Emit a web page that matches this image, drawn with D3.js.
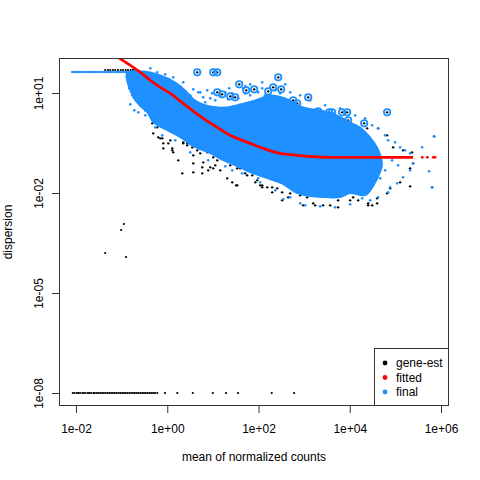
<!DOCTYPE html>
<html><head><meta charset="utf-8">
<script src="https://cdn.jsdelivr.net/npm/d3@7"></script>
<style>body{margin:0;background:#fff}</style>
</head><body><svg id="c" width="480" height="480"></svg>
<script>
// ---- tick labels ----
const xTicks = [1e-2, 1e0, 1e2, 1e4, 1e6];
const xTickLabels = ["1e-02", "1e+00", "1e+02", "1e+04", "1e+06"];
const yTicks = [1e1, 1e-2, 1e-5, 1e-8];
const yTickLabels = ["1e+01", "1e-02", "1e-05", "1e-08"];
const legendLabels = ["gene-est", "fitted", "final"];

// ---- data, all as [log10 mean, log10 dispersion] ----
// gene-est: genes at the minimum dispersion (1e-08)
const geneMinMean = [-2.07,-2.03,-1.98,-1.95,-1.91,-1.86,-1.83,-1.79,-1.74,-1.71,-1.67,-1.62,-1.59,-1.55,-1.51,-1.47,-1.43,-1.39,-1.35,-1.31,-1.27,-1.23,-1.19,-1.15,-1.11,-1.07,-1.03,-0.99,-0.95,-0.91,-0.87,-0.83,-0.79,-0.75,-0.71,-0.67,-0.63,-0.59,-0.55,-0.51,-0.47,-0.43,-0.39,-0.35,-0.31,-0.27,-0.22,-0.05,0.22,0.56,1.0,1.29,1.55,2.29,2.78];
const geneMinDisp = -8;
// gene-est: capped maximum
const geneMaxMean = [-1.36,-1.30,-1.25,-1.19,-1.14,-1.08,-1.02,-0.97,-0.91,-0.86,-0.80,-0.75,-0.70,-0.66];
const geneMaxDisp = 1.69;
// gene-est isolated low points
const geneIsolated = [[-0.95,-2.93],[-1.01,-3.11],[-1.36,-3.80],[-0.905,-3.92]];
// gene-est scattered (mostly below the final cloud)
const geneScatter = [
[-0.657,0.78],[-0.591,0.69],[-0.482,0.48],[-0.372,0.33],[-0.329,0.09],[-0.307,0.18],[-0.307,-0.21],[-0.219,-0.03],
[-0.197,-0.33],[-0.153,-0.36],[-0.088,-0.51],[-0.088,-0.66],[0.022,-0.51],[0.066,-0.42],[0.110,-0.66],[0.131,-0.78],
[0.241,-1.02],[0.329,-1.41],[0.350,-0.48],[0.438,-0.51],[0.504,-0.51],[0.548,-0.63],[0.570,-0.87],[0.570,-1.38],
[0.767,-1.23],[0.767,-1.41],[0.789,-1.08],[0.898,-1.32],[0.942,-0.72],[1.008,-1.26],[1.052,-1.17],[1.117,-0.81],
[1.314,-1.56],[1.424,-1.68],[1.511,-1.77],[1.533,-1.26],[1.752,-1.47],[1.971,-1.62],[2.037,-1.77],[2.081,-1.83],
[2.191,-1.83],[2.300,-1.98],[2.410,-1.86],[2.519,-1.98],[2.651,-2.13],[2.979,-2.37],[3.242,-2.37],[3.571,-2.37],
[3.746,-2.43],[4.075,-2.13],[4.403,-2.37],[4.491,-2.37],[4.600,-2.16],[4.819,-2.01],[4.885,-1.86],[5.104,-1.68],
[5.323,-1.26],[5.389,-1.11],[5.169,-0.72],[4.951,-0.63],[4.819,-0.27],[4.622,-0.06],[4.381,-0.06],[4.162,-0.03],
[5.367,-0.78],[5.323,-1.80],[5.849,-0.30],[5.805,-1.83],
[-0.788,1.38],[-0.701,1.23],[-0.635,1.08],[-0.745,1.02],[-0.591,0.93],[-0.526,1.44],
[0.110,-0.72],[0.570,-1.11],[0.942,-1.23],[1.161,-1.32],[1.533,-1.77],[-0.110,-0.36],[0.350,-0.51],[0.438,-0.57],
[0.657,-0.72],[0.723,-0.81],[0.876,-0.78],[1.008,-0.93],[1.095,-1.02],[1.380,-1.17],[1.599,-1.26],[1.709,-1.41],
[1.928,-1.68],[2.081,-1.77],[2.300,-1.83],[2.519,-2.22],[2.694,-2.01],[3.198,-2.31],[3.417,-2.37],[3.746,-2.22],
[4.009,-2.22],[4.184,-2.22],[4.403,-2.31],[4.600,-2.31],[1.862,-1.47],[2.760,-1.83],[2.913,-2.07],[3.067,-2.13]];

// final: outline of the dense cloud of final estimates
const finalCloud = [
[-0.876,1.62],[-0.526,1.65],[-0.153,1.53],[0.175,1.32],[0.394,1.08],[0.613,0.78],[0.942,0.60],[1.271,0.57],
[1.599,0.66],[1.928,0.78],[2.256,0.93],[2.585,0.84],[2.979,0.57],[3.352,0.48],[3.724,0.33],[4.009,0.12],[4.228,-0.03],
[4.447,-0.33],[4.600,-0.63],[4.688,-0.93],[4.710,-1.17],
[4.666,-1.38],[4.513,-1.80],[4.338,-2.07],[4.009,-2.01],[3.790,-2.13],[3.461,-2.13],[3.133,-2.10],[2.804,-1.98],
[2.541,-1.74],[2.191,-1.56],[1.818,-1.38],[1.533,-1.20],[1.227,-1.02],[0.942,-0.81],[0.570,-0.60],[0.285,-0.33],
[0.000,-0.12],[-0.307,0.12],[-0.438,0.42],[-0.591,0.60],[-0.745,0.87],[-0.854,1.23],[-0.898,1.50]];
// final: capped plateau
const finalMaxMean = [-2.08,-2.03,-1.98,-1.93,-1.88,-1.83,-1.78,-1.73,-1.68,-1.63,-1.58,-1.53,-1.48,-1.43,-1.38,-1.33,-1.28,-1.23,-1.18,-1.13,-1.08,-1.03,-0.98,-0.93,-0.88,-0.83,-0.78,-0.73];
const finalMaxDisp = 1.63;
// final: scattered points around the cloud
const finalScatter = [
[-0.372,1.74],[-0.219,1.62],[-0.044,1.56],[0.131,1.47],[0.350,1.32],[0.285,1.20],[0.570,1.11],[0.679,1.02],
[0.876,1.08],[0.986,0.99],[1.271,1.02],[1.358,1.14],[1.709,1.20],[1.818,1.26],[2.081,1.32],[2.585,1.26],
[2.694,1.02],[2.913,0.93],[3.133,0.78],[3.461,0.63],[3.790,0.54],[4.119,0.33],[4.338,0.24],[4.491,0.03],
[4.622,-0.06],[4.775,-0.27],[4.841,-0.42],[4.994,-0.48],[5.104,-0.63],[5.213,-0.72],[5.323,-0.81],[5.389,-1.11],
[5.323,-1.32],[5.169,-1.53],[5.038,-1.71],[4.885,-1.83],[4.666,-1.56],[4.775,-1.32],[4.929,-1.02],[5.060,-1.17],
[4.841,-1.98],[4.622,-2.13],[4.447,-2.22],[5.586,-0.63],[5.739,-1.35],[5.849,-0.30],[5.805,-1.83],
[-0.482,0.33],[-0.263,-0.03],[-0.110,-0.27],[0.175,-0.42],[0.504,-0.78],[0.898,-1.02],[1.271,-1.20],[1.643,-1.41],
[2.037,-1.68],[2.366,-1.92],[2.694,-2.13],[3.023,-2.37],[3.352,-2.40],[3.680,-2.43],[4.009,-2.34],[4.272,-2.16],
[2.541,-2.19],[2.913,-2.31],[1.993,-1.56],[1.424,-1.32],[-0.810,0.66],[-0.723,0.48],[-0.767,0.93],[-0.832,1.14],[-0.635,0.42],
[0.504,0.93],[0.548,0.78],[0.723,1.02],[0.789,0.87],[0.942,0.84],[1.052,0.78],[1.161,0.90],[1.336,0.81],
[1.424,0.99],[1.555,0.84],[1.709,0.99],[1.818,0.93],[1.993,1.02],[2.081,1.14],[2.147,0.93],[2.366,1.08],
[2.475,0.99],[0.832,0.72],[0.394,0.93],[1.665,1.14]];
// final: dispersion outliers (circled)
const outliers = [
[0.657,1.62],[1.008,1.62],[1.095,1.62],[1.577,1.26],[1.095,1.02],[1.205,0.96],[1.380,0.90],[1.490,0.87],
[2.432,1.47],[1.906,1.11],[1.731,1.08],[2.322,1.17],[2.497,1.11],[2.213,1.05],[3.089,0.87],[2.169,0.72],
[2.760,0.78],[2.848,0.69],[3.308,0.45],[3.549,0.42],[3.614,0.42],[3.833,0.42],[3.943,0.42],[3.965,0.18],
[4.316,0.09],[4.819,0.42]];

// fitted trend
const fittedCurve = [
[-1.139,2.13],[-1.008,2.01],[-0.591,1.62],[-0.372,1.38],[-0.153,1.17],[0.066,0.99],[0.350,0.69],[0.723,0.30],
[1.095,-0.03],[1.380,-0.27],[1.818,-0.51],[2.103,-0.66],[2.475,-0.81],[2.848,-0.87],[3.571,-0.93],[4.294,-0.93],
[5.169,-0.93],[5.39,-0.93]];
const fittedSparse = [[5.59,-0.93],[5.70,-0.93],[5.83,-0.93],[5.87,-0.93]];

// ---- drawing ----
const BLUE = "#1E90FF", RED = "#FF0000";
const L = 59, R = 449, T = 58, B = 406;
const svg = d3.select("#c").style("font-family", "'Liberation Sans', Arial, Helvetica, sans-serif");
const P = v => Math.pow(10, v);
const x = d3.scaleLog().domain([P(-2.3726), P(6.1753)]).range([L, R]);
const y = d3.scaleLog().domain([P(-8.39), P(2.05)]).range([B, T]);
const fx = d => x(P(d[0])), fy = d => y(P(d[1]));

svg.append("defs").append("clipPath").attr("id", "clip")
  .append("rect").attr("x", L).attr("y", T).attr("width", R - L).attr("height", B - T);
const g = svg.append("g").attr("clip-path", "url(#clip)");

function dots(data, color, r) {
  g.append("g").selectAll("circle").data(data).join("circle")
    .attr("cx", fx).attr("cy", fy).attr("r", r).attr("fill", color);
}
// gene-est (black)
dots(geneMinMean.map(m => [m, geneMinDisp]), "#000", 1.1);
dots(geneMaxMean.map(m => [m, geneMaxDisp]), "#000", 1.1);
dots(geneIsolated, "#000", 1.1);
dots(geneScatter, "#000", 1.2);
dots(outliers, "#000", 1.2);

// final (blue)
g.append("path").datum(finalCloud)
  .attr("d", d3.line().x(fx).y(fy).curve(d3.curveCatmullRomClosed.alpha(0.5)))
  .attr("fill", BLUE).attr("stroke", BLUE).attr("stroke-width", 1.5);
dots(finalMaxMean.map(m => [m, finalMaxDisp]), BLUE, 1.3);
dots(finalScatter, BLUE, 1.3);
g.append("g").selectAll("circle").data(outliers).join("circle")
  .attr("cx", fx).attr("cy", fy).attr("r", 3.2)
  .attr("fill", "none").attr("stroke", BLUE).attr("stroke-width", 1.8);

// fitted (red)
g.append("path").datum(fittedCurve)
  .attr("d", d3.line().x(fx).y(fy).curve(d3.curveMonotoneX))
  .attr("fill", "none").attr("stroke", RED).attr("stroke-width", 2.8);
dots(fittedSparse, RED, 1.4);

// box
svg.append("rect").attr("x", L + 0.5).attr("y", T + 0.5).attr("width", R - L - 1).attr("height", B - T - 1)
  .attr("fill", "none").attr("stroke", "#333").attr("stroke-width", 1);

// x axis
const xa = svg.append("g").attr("transform", `translate(0,${B})`)
  .call(d3.axisBottom(x).tickValues(xTicks).tickFormat((d, i) => xTickLabels[i]).tickSize(7).tickSizeOuter(0).tickPadding(11.5));
xa.select(".domain").remove();
xa.attr("font-family", null);
xa.selectAll("line").attr("stroke", "#333");
xa.selectAll("text").attr("font-size", 12).attr("fill", "#000");

// y axis
const ya = svg.append("g").attr("transform", `translate(${L},0)`)
  .call(d3.axisLeft(y).tickValues(yTicks).tickFormat((d, i) => yTickLabels[i]).tickSize(7).tickSizeOuter(0));
ya.select(".domain").remove();
ya.attr("font-family", null);
ya.selectAll("line").attr("stroke", "#333");
ya.selectAll("text").attr("font-size", 12).attr("fill", "#000")
  .attr("transform", "rotate(-90)").attr("x", 0).attr("y", -16).attr("dy", 0).attr("text-anchor", "middle");

// axis titles
svg.append("text").attr("x", 254).attr("y", 461).attr("text-anchor", "middle").attr("font-size", 12)
  .text("mean of normalized counts");
svg.append("text").attr("transform", "translate(12,232) rotate(-90)").attr("text-anchor", "middle").attr("font-size", 12)
  .text("dispersion");

// legend
svg.append("rect").attr("x", 374.5).attr("y", 348.5).attr("width", 74).attr("height", 57)
  .attr("fill", "#fff").attr("stroke", "#333");
const legColors = ["#000", RED, BLUE];
legendLabels.forEach((lab, i) => {
  const yy = 363 + i * 14.5;
  svg.append("circle").attr("cx", 385).attr("cy", yy).attr("r", 2.4).attr("fill", legColors[i]);
  svg.append("text").attr("x", 396).attr("y", yy + 4.3).attr("font-size", 12).text(lab);
});
</script>
</body></html>
